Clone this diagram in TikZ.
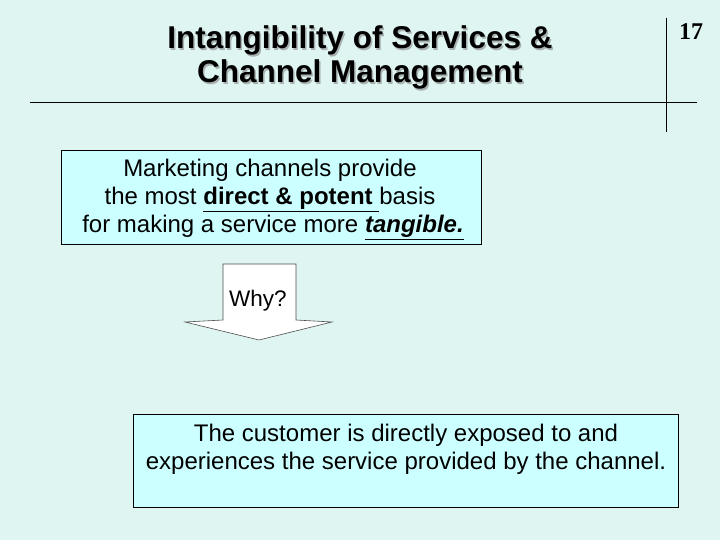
\documentclass[tikz,border=0pt]{standalone}
\usepackage{fontspec}
\setmainfont{Liberation Sans}
\newfontfamily\serifnum{Liberation Serif}
\definecolor{bgc}{HTML}{DFF5F1}
\definecolor{boxc}{HTML}{CCFFFF}
\definecolor{shadowc}{HTML}{A8B0B0}
\tikzset{
  txtbox/.style={draw=black, line width=0.8pt, fill=boxc, inner sep=0pt},
  bodytext/.style={font=\fontsize{24}{29}\selectfont, anchor=base, inner sep=0pt},
  titletext/.style={font=\fontsize{31.5}{34}\selectfont\bfseries, anchor=base, inner sep=0pt},
  rule/.style={draw=black, line width=0.8pt}
}
\begin{document}
\begin{tikzpicture}[x=1pt,y=-1pt]
\fill[bgc] (0,0) rectangle (720,540);
\useasboundingbox (0,0) rectangle (720,540);
% title with shadow
\node[titletext, text=shadowc] (t1s) at (361.5,50.5) {Intangibility of Services \&};
\node[titletext, text=shadowc] (t2s) at (361.5,84.5) {Channel Management};
\node[titletext] (t1) at (360,49) {Intangibility of Services \&};
\node[titletext] (t2) at (360,83) {Channel Management};
% rules
\coordinate (hl) at (30,102);
\coordinate (hr) at (697,102);
\coordinate (vt) at (666,18);
\coordinate (vb) at (666,132);
\draw[rule] (hl) -- (hr);
\draw[rule] (vt) -- (vb);
\node[font=\serifnum\fontsize{24}{28}\selectfont\bfseries, anchor=base, inner sep=0pt] (num) at (691,40) {17};
% box 1
\node[txtbox, minimum width=420pt, minimum height=94pt] (box1) at (271,197) {};
\node[bodytext] (b1l1) at (270,177) {Marketing channels provide};
\node[bodytext] (b1l2) at (270,205) {the most \underline{\textbf{direct \& potent} }basis};
\node[bodytext] (b1l3) at (273,233) {for making a service more \underline{\textbf{\textit{tangible.}}}};
% arrow
\draw[draw=black!70, line width=0.6pt, fill=white] (223,264) -- (296,264) -- (296,320) -- (332,322) -- (259,340) -- (185,322) -- (223,320) -- cycle;
\node[font=\fontsize{22.5}{26}\selectfont, anchor=base, inner sep=0pt] (why) at (258,306) {Why?};
% box 2
\node[txtbox, minimum width=545pt, minimum height=93pt] (box2) at (405.5,460.5) {};
\node[bodytext] (b2l1) at (406,441) {The customer is directly exposed to and};
\node[bodytext] (b2l2) at (406,469) {experiences the service provided by the channel.};
\end{tikzpicture}
\end{document}
